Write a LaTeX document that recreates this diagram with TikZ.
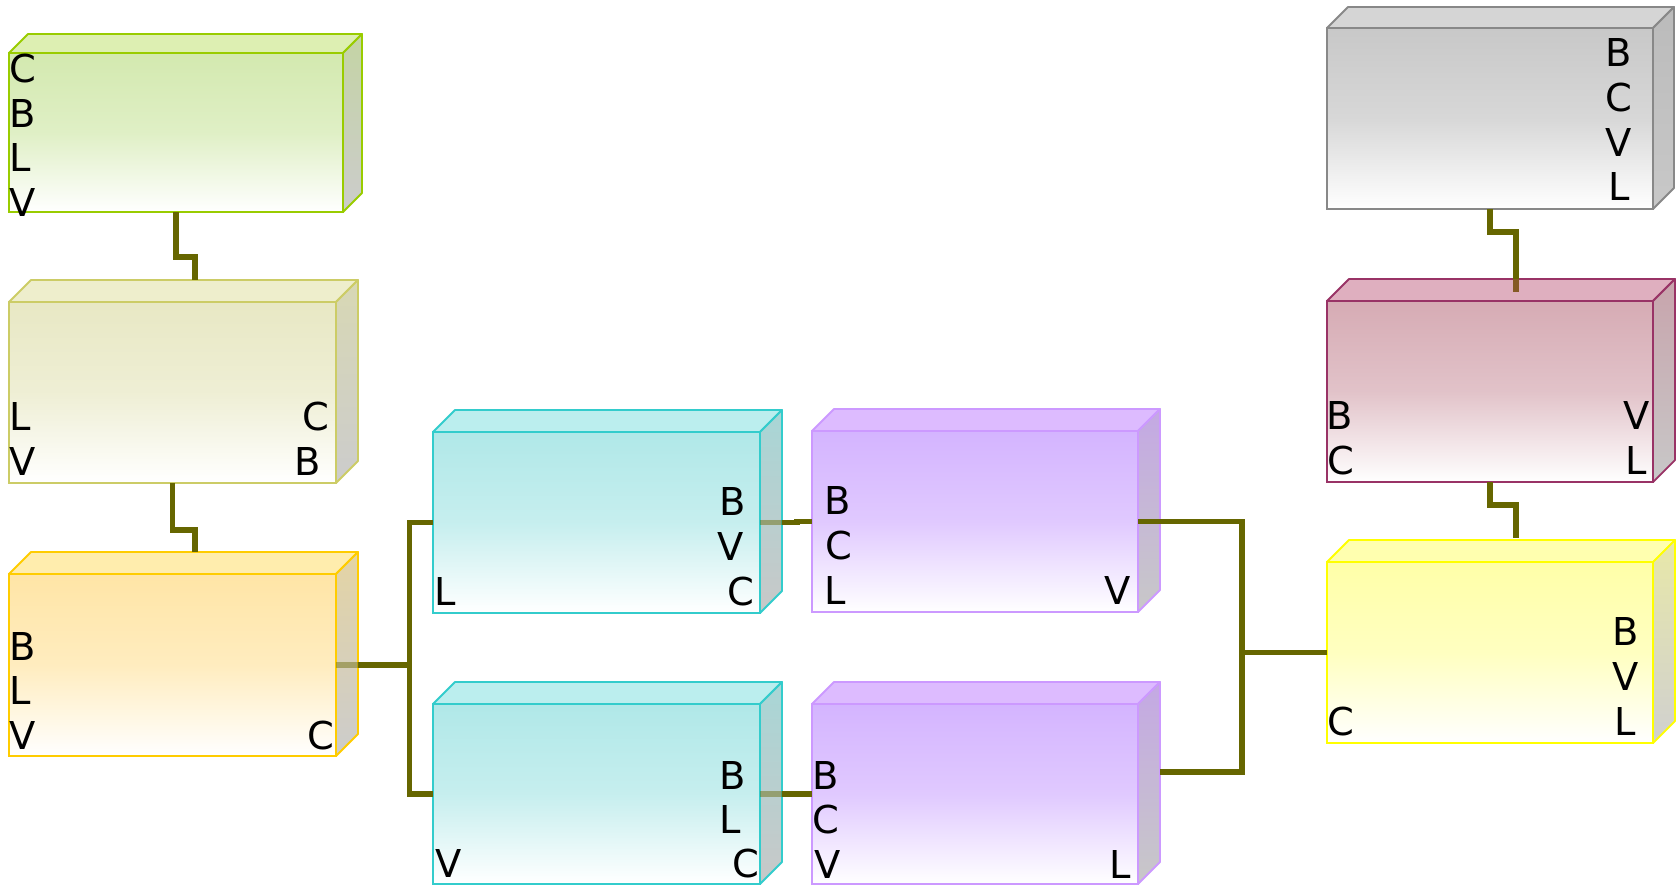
\documentclass[tikz,border=0pt]{standalone}
\usepackage{fontspec}
\setmainfont{DejaVu Sans}
\usetikzlibrary{calc}
% schemes: S stroke, F front, T top face, A side top, B side bottom
\definecolor{grS}{HTML}{99CC00}\definecolor{grF}{HTML}{D3E9AF}\definecolor{grT}{HTML}{DDEFB2}\definecolor{grA}{HTML}{C4D4A4}\definecolor{grB}{HTML}{CCCCCC}
\definecolor{khS}{HTML}{CCCC66}\definecolor{khF}{HTML}{E8E8C4}\definecolor{khT}{HTML}{EEEECC}\definecolor{khA}{HTML}{D8D8B4}\definecolor{khB}{HTML}{CCCCCC}
\definecolor{orS}{HTML}{FFCC00}\definecolor{orF}{HTML}{FFE5A6}\definecolor{orT}{HTML}{FFEDAD}\definecolor{orA}{HTML}{E4D4A4}\definecolor{orB}{HTML}{CCCCCC}
\definecolor{cyS}{HTML}{33CCCC}\definecolor{cyF}{HTML}{B0E8E8}\definecolor{cyT}{HTML}{BBEEEE}\definecolor{cyA}{HTML}{A8D6D6}\definecolor{cyB}{HTML}{C8C8C8}
\definecolor{puS}{HTML}{CC99FF}\definecolor{puF}{HTML}{D4B4FF}\definecolor{puT}{HTML}{DDBBFF}\definecolor{puA}{HTML}{C4A8E4}\definecolor{puB}{HTML}{C8C8C8}
\definecolor{gaS}{HTML}{888888}\definecolor{gaF}{HTML}{C8C8C8}\definecolor{gaT}{HTML}{D5D5D5}\definecolor{gaA}{HTML}{BBBBBB}\definecolor{gaB}{HTML}{C8C8C8}
\definecolor{pkS}{HTML}{993366}\definecolor{pkF}{HTML}{D6ABB4}\definecolor{pkT}{HTML}{DFAFBF}\definecolor{pkA}{HTML}{C8A4AC}\definecolor{pkB}{HTML}{C8C8C8}
\definecolor{yeS}{HTML}{FFFF00}\definecolor{yeF}{HTML}{FFFFA8}\definecolor{yeT}{HTML}{FFFFAF}\definecolor{yeA}{HTML}{E8E8A8}\definecolor{yeB}{HTML}{D0D0D0}
\definecolor{olv}{HTML}{666600}
\definecolor{olvbr}{HTML}{855A25}

\tikzset{
  front/.style={rectangle, inner sep=0pt, outer sep=0pt, line width=1.8pt},
  face/.style={line width=1.8pt, line join=round},
  lbl/.style={inner sep=0pt, outer sep=0pt, font=\fontsize{38.4}{45}\selectfont},
  conn/.style={draw=olv, line width=5.5pt},
  connfade/.style={draw=olv, line width=5.5pt, draw opacity=.45},
}

% name, cx, cy, w, h, depth, scheme
\newcommand\cubebox[7]{%
  \node[front, draw=#7S, top color=#7F, bottom color=white, middle color=#7F!72!white,
        minimum width=#4pt, minimum height=#5pt] (#1) at (#2,-#3) {};
  \filldraw[face, draw=#7S, fill=#7T] (#1.north west) -- ++(#6,#6)
     -- ([shift={(#6,#6)}]#1.north east) -- (#1.north east) -- cycle;
  \shadedraw[face, draw=#7S, top color=#7A, bottom color=#7B] (#1.north east) -- ++(#6,#6)
     -- ([shift={(#6,#6)}]#1.south east) -- (#1.south east) -- cycle;
}
% name, x, y, anchor, text
\newcommand\boxlbl[5]{\node[lbl, anchor=#4] (#1) at (#2,-#3) {#5};}

\begin{document}
\begin{tikzpicture}[x=1pt, y=1pt]
\useasboundingbox (0,0) rectangle (1679,-886);

\cubebox{b1}{176}{132.5}{334}{159}{19}{gr}
\cubebox{b2}{172.5}{392.5}{327}{181}{22}{kh}
\cubebox{b3}{172.5}{665}{327}{182}{22}{or}
\cubebox{b4}{596.5}{522.5}{327}{181}{22}{cy}
\cubebox{b5}{596.5}{794}{327}{180}{22}{cy}
\cubebox{b6}{975}{521.5}{326}{181}{22}{pu}
\cubebox{b7}{975}{794}{326}{180}{22}{pu}
\cubebox{b8}{1490}{118.5}{326}{181}{21}{ga}
\cubebox{b9}{1490}{391.5}{326}{181}{22}{pk}
\cubebox{b10}{1490}{652.5}{326}{181}{22}{ye}

% labels
\boxlbl{t1a}{9.5}{82.4}{base west}{C}
\boxlbl{t1b}{9.5}{127.1}{base west}{B}
\boxlbl{t1c}{9.5}{171.8}{base west}{L}
\boxlbl{t1d}{9.5}{216.5}{base west}{V}

\boxlbl{t2a}{9.5}{430.7}{base west}{L}
\boxlbl{t2b}{9.5}{475.4}{base west}{V}
\boxlbl{t2c}{329}{430.7}{base east}{C}
\boxlbl{t2d}{321}{475.4}{base east}{B}

\boxlbl{t3a}{9.5}{660}{base west}{B}
\boxlbl{t3b}{9.5}{704.7}{base west}{L}
\boxlbl{t3c}{9.5}{749.4}{base west}{V}
\boxlbl{t3d}{334}{749.4}{base east}{C}

\boxlbl{t4a}{746}{515.7}{base east}{B}
\boxlbl{t4b}{743.6}{560.4}{base east}{V}
\boxlbl{t4c}{754.2}{605.3}{base east}{C}
\boxlbl{t4d}{434}{605.3}{base west}{L}

\boxlbl{t5a}{746}{789}{base east}{B}
\boxlbl{t5b}{740.5}{833.2}{base east}{L}
\boxlbl{t5c}{759.2}{877.5}{base east}{C}
\boxlbl{t5d}{435.5}{877.5}{base west}{V}

\boxlbl{t6a}{824}{514}{base west}{B}
\boxlbl{t6b}{825}{559.5}{base west}{C}
\boxlbl{t6c}{824}{604}{base west}{L}
\boxlbl{t6d}{1130.3}{604}{base east}{V}

\boxlbl{t7a}{812.5}{789}{base west}{B}
\boxlbl{t7b}{812.5}{833.8}{base west}{C}
\boxlbl{t7c}{814}{878.2}{base west}{V}
\boxlbl{t7d}{1130.5}{878.2}{base east}{L}

\boxlbl{t8a}{1619}{66.7}{base}{B}
\boxlbl{t8b}{1619}{111.4}{base}{C}
\boxlbl{t8c}{1619}{156.1}{base}{V}
\boxlbl{t8d}{1619}{200.8}{base}{L}

\boxlbl{t9a}{1326}{429}{base west}{B}
\boxlbl{t9b}{1327.5}{474.5}{base west}{C}
\boxlbl{t9c}{1650}{429}{base east}{V}
\boxlbl{t9d}{1646.5}{474.5}{base east}{L}

\boxlbl{t10a}{1625.5}{645.7}{base}{B}
\boxlbl{t10b}{1625.5}{690.4}{base}{V}
\boxlbl{t10c}{1625.5}{735.1}{base}{L}
\boxlbl{t10d}{1327.5}{735.3}{base west}{C}

% junctions
\coordinate (j1) at (409.3,-665);
\coordinate (j2) at (1242,-652.5);

% connectors
\draw[conn] (b1.south) -- ++(0,-45) -| ([shift={(22.5,22)}]b2.north);
\draw[conn] (b2.south) -- ++(0,-47) -| ([shift={(22.5,22)}]b3.north);

\draw[connfade] (b3.east) -- ++(22,0);
\draw[conn] ([xshift=22pt]b3.east) -- (j1);
\draw[conn] (b4.west) -| (j1) |- (b5.west);

\draw[connfade] (b4.east) -- ++(22,0);
\draw[conn] ([xshift=22pt]b4.east) -- ++(15,0) |- (b6.west);
\draw[connfade] (b5.east) -- ++(22,0);
\draw[conn] ([xshift=22pt]b5.east) -- ++(15,0) |- (b7.west);

\draw[conn] (b6.east) -| (j2) -- (b10.west);
\draw[conn] ([shift={(22,22)}]b7.east) -| (j2);

\draw[conn] (b8.south) -- ++(0,-23) -| ([shift={(26,22)}]b9.north);
\draw[conn, draw=olvbr] ([shift={(26,22)}]b9.north) -- ([shift={(26,9)}]b9.north);
\draw[conn] (b9.south) -- ++(0,-23) -| ([shift={(26,24)}]b10.north);
\end{tikzpicture}
\end{document}
